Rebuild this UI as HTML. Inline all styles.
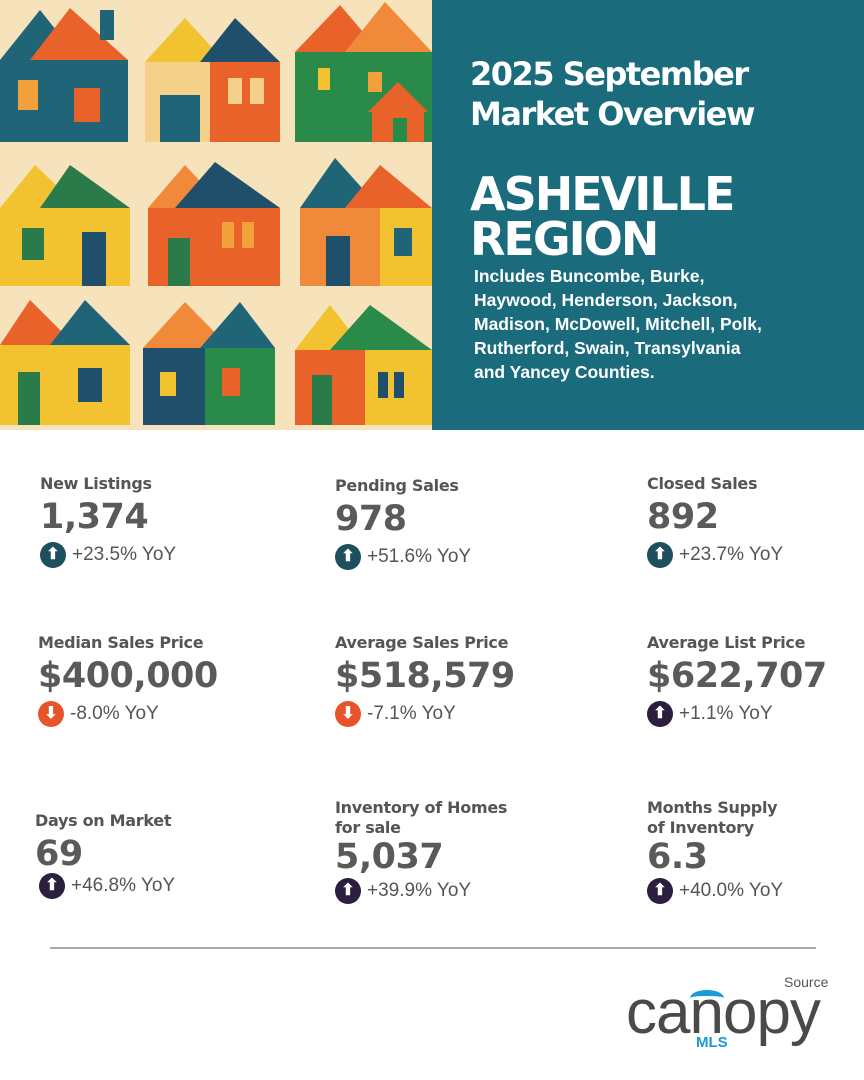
<!DOCTYPE html>
<html><head><meta charset="utf-8"><style>
body{margin:0;width:864px;height:1080px;background:#fff;font-family:"Liberation Sans",Arial,sans-serif;position:relative;overflow:hidden}
.hero{position:absolute;left:0;top:0;width:432px;height:430px}
.panel{position:absolute;left:432px;top:0;width:432px;height:430px;background:#1a6b7c;color:#fff}
.t1{position:absolute;left:38px;top:54px;font-family:"DejaVu Sans",sans-serif;font-size:32px;font-weight:bold;line-height:40px;letter-spacing:-1.5px}
.t2{position:absolute;left:38px;top:172px;font-family:"DejaVu Sans",sans-serif;font-size:46px;font-weight:bold;line-height:45px;letter-spacing:-2px}
.t3{position:absolute;left:42px;top:264px;font-size:17.5px;font-weight:bold;line-height:24px}
.s{position:absolute;color:#555}
.s .l{font-family:"DejaVu Sans",sans-serif;font-size:16px;font-weight:bold;line-height:20px;letter-spacing:-0.3px}
.s .n{font-family:"DejaVu Sans",sans-serif;font-size:35px;font-weight:bold;line-height:46px;color:#5a5a5a;letter-spacing:-0.5px}
.s .y{font-size:19px;line-height:30px;display:flex;align-items:center;gap:6px}
.ic{width:26px;height:26px;border-radius:50%;display:inline-block;color:#fff;font-size:16px;line-height:26px;text-align:center;font-weight:bold}
.up1{background:#1d4f5e}.dn{background:#e8542a}.up2{background:#2b1f3f}
hr{position:absolute;left:50px;top:947px;width:766px;border:0;border-top:2px solid #aaa;margin:0}
</style></head><body>
<svg class="hero" width="432" height="430" viewBox="0 0 432 430">
<rect width="432" height="430" fill="#f6e2bb"/>
<rect x="0" y="60" width="128" height="82" fill="#1f6477"/><polygon points="0,60 40,10 80,60" fill="#1f6477"/><polygon points="30,60 70,8 128,60" fill="#e8622a"/><rect x="100" y="10" width="14" height="30" fill="#1f6477"/><rect x="18" y="80" width="20" height="30" fill="#f2a03a"/><rect x="74" y="88" width="26" height="34" fill="#e8622a"/>
<rect x="145" y="62" width="70" height="80" fill="#f4d08a"/><rect x="210" y="62" width="70" height="80" fill="#e8622a"/><polygon points="145,62 185,18 225,62" fill="#f2c230"/><polygon points="200,62 235,18 280,62" fill="#1f4f6a"/><rect x="160" y="95" width="40" height="47" fill="#1f6477"/><rect x="228" y="78" width="14" height="26" fill="#f4d08a"/><rect x="250" y="78" width="14" height="26" fill="#f4d08a"/>
<rect x="295" y="52" width="137" height="90" fill="#2a8a4a"/><polygon points="295,52 340,5 380,52" fill="#e8622a"/><polygon points="345,52 385,2 432,52" fill="#f08a3a"/><rect x="318" y="68" width="12" height="22" fill="#f2c230"/><rect x="368" y="72" width="14" height="20" fill="#f2a03a"/><rect x="372" y="110" width="52" height="32" fill="#e8622a"/><polygon points="368,112 398,82 428,112" fill="#e8622a"/><rect x="393" y="118" width="14" height="24" fill="#2a8a4a"/>
<rect x="0" y="208" width="130" height="78" fill="#f2c230"/><polygon points="0,208 35,165 80,208" fill="#f2c230"/><polygon points="40,208 70,165 130,208" fill="#2a7a4a"/><rect x="22" y="228" width="22" height="32" fill="#2a7a4a"/><rect x="82" y="232" width="24" height="54" fill="#1f4f6a"/>
<rect x="148" y="208" width="132" height="78" fill="#e8622a"/><polygon points="148,208 185,165 225,208" fill="#f08a3a"/><polygon points="175,208 215,162 280,208" fill="#1f4f6a"/><rect x="168" y="238" width="22" height="48" fill="#2a7a4a"/><rect x="222" y="222" width="12" height="26" fill="#f2a03a"/><rect x="242" y="222" width="12" height="26" fill="#f2a03a"/>
<rect x="300" y="208" width="132" height="78" fill="#f08a3a"/><rect x="380" y="208" width="52" height="78" fill="#f2c230"/><polygon points="300,208 335,158 380,208" fill="#1f6477"/><polygon points="345,208 380,165 432,208" fill="#e8622a"/><rect x="326" y="236" width="24" height="50" fill="#1f4f6a"/><rect x="394" y="228" width="18" height="28" fill="#1f6477"/>
<rect x="0" y="345" width="130" height="80" fill="#f2c230"/><polygon points="0,345 30,300 75,345" fill="#e8622a"/><polygon points="50,345 85,300 130,345" fill="#1f6477"/><rect x="18" y="372" width="22" height="53" fill="#2a7a4a"/><rect x="78" y="368" width="24" height="34" fill="#1f4f6a"/>
<rect x="143" y="348" width="132" height="77" fill="#1f4f6a"/><rect x="205" y="348" width="70" height="77" fill="#2a8a4a"/><polygon points="143,348 185,302 230,348" fill="#f08a3a"/><polygon points="200,348 240,302 275,348" fill="#1f6477"/><rect x="222" y="368" width="18" height="28" fill="#e8622a"/><rect x="160" y="372" width="16" height="24" fill="#f2c230"/>
<rect x="295" y="350" width="137" height="75" fill="#f2c230"/><rect x="295" y="350" width="70" height="75" fill="#e8622a"/><polygon points="295,350 330,305 365,350" fill="#f2c230"/><polygon points="330,350 370,305 432,350" fill="#2a8a4a"/><rect x="312" y="375" width="20" height="50" fill="#2a7a4a"/><rect x="378" y="372" width="10" height="26" fill="#1f4f6a"/><rect x="394" y="372" width="10" height="26" fill="#1f4f6a"/>
</svg>
<div class="panel">
<div class="t1">2025 September<br>Market Overview</div>
<div class="t2">ASHEVILLE<br>REGION</div>
<div class="t3">Includes Buncombe, Burke,<br>Haywood, Henderson, Jackson,<br>Madison, McDowell, Mitchell, Polk,<br>Rutherford, Swain, Transylvania<br>and Yancey Counties.</div>
</div>

<div class="s" style="left:40px;top:474px"><div class="l">New Listings</div><div class="n">1,374</div><div class="y"><span class="ic up1">⬆</span>+23.5% YoY</div></div>
<div class="s" style="left:335px;top:476px"><div class="l">Pending Sales</div><div class="n">978</div><div class="y"><span class="ic up1">⬆</span>+51.6% YoY</div></div>
<div class="s" style="left:647px;top:474px"><div class="l">Closed Sales</div><div class="n">892</div><div class="y"><span class="ic up1">⬆</span>+23.7% YoY</div></div>

<div class="s" style="left:38px;top:633px"><div class="l">Median Sales Price</div><div class="n">$400,000</div><div class="y"><span class="ic dn">⬇</span>-8.0% YoY</div></div>
<div class="s" style="left:335px;top:633px"><div class="l">Average Sales Price</div><div class="n">$518,579</div><div class="y"><span class="ic dn">⬇</span>-7.1% YoY</div></div>
<div class="s" style="left:647px;top:633px"><div class="l">Average List Price</div><div class="n">$622,707</div><div class="y"><span class="ic up2">⬆</span>+1.1% YoY</div></div>

<div class="s" style="left:35px;top:811px"><div class="l">Days on Market</div><div class="n">69</div><div class="y" style="margin-left:4px;margin-top:-6px"><span class="ic up2">⬆</span>+46.8% YoY</div></div>
<div class="s" style="left:335px;top:798px"><div class="l">Inventory of Homes<br>for sale</div><div class="n" style="line-height:38px">5,037</div><div class="y"><span class="ic up2">⬆</span>+39.9% YoY</div></div>
<div class="s" style="left:647px;top:798px"><div class="l">Months Supply<br>of Inventory</div><div class="n" style="line-height:38px">6.3</div><div class="y"><span class="ic up2">⬆</span>+40.0% YoY</div></div>

<hr>
<div style="position:absolute;left:784px;top:974px;font-size:14px;color:#555">Source</div>
<div style="position:absolute;left:626px;top:978px;font-size:62px;color:#4a4a4a;letter-spacing:-1px;line-height:70px">canopy</div>
<div style="position:absolute;left:696px;top:1034px;font-size:15px;font-weight:bold;color:#1a9ad6">MLS</div>
<div style="position:absolute;left:690px;top:990px;width:34px;height:10px;border-top:6px solid #1a9ad6;border-radius:50% 50% 0 0"></div>
</body></html>
